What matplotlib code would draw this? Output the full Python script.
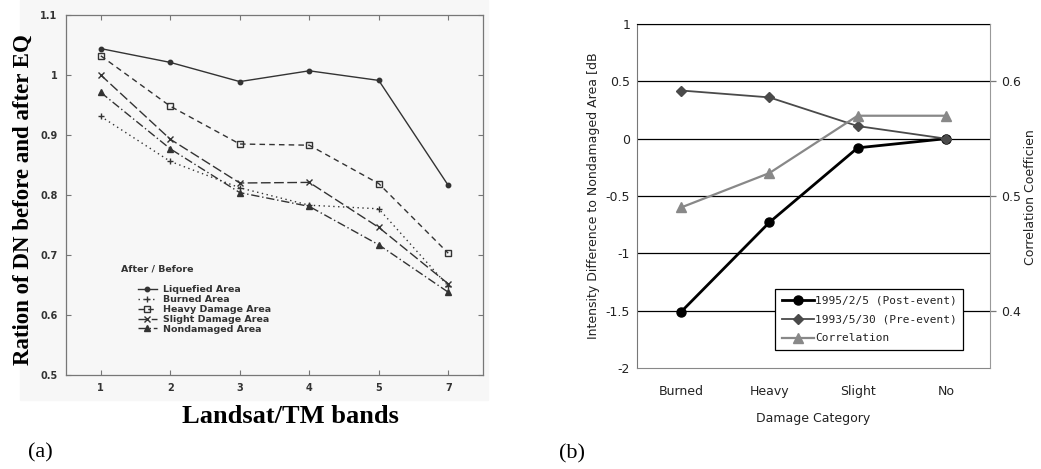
import numpy as np
import matplotlib.pyplot as plt
from matplotlib.patches import Rectangle

# panel (a): ratio of DN after / before the earthquake
bands = ['1', '2', '3', '4', '5', '7']
liquefied = [1.044, 1.021, 0.989, 1.007, 0.991, 0.816]
burned = [0.931, 0.856, 0.812, 0.783, 0.777, 0.648]
heavy = [1.032, 0.948, 0.885, 0.883, 0.819, 0.703]
slight = [1.000, 0.893, 0.820, 0.821, 0.746, 0.652]
nondamaged = [0.971, 0.877, 0.804, 0.781, 0.717, 0.638]
a_yticks = [0.5, 0.6, 0.7, 0.8, 0.9, 1.0, 1.1]
a_yticklabels = ['0.5', '0.6', '0.7', '0.8', '0.9', '1', '1.1']

# panel (b): intensity difference and correlation by damage category
categories = ['Burned', 'Heavy', 'Slight', 'No']
post_event = [-1.51, -0.73, -0.08, 0.0]
pre_event = [0.42, 0.36, 0.11, 0.0]
correlation = [0.49, 0.52, 0.57, 0.57]
b_yticks = [-2, -1.5, -1, -0.5, 0, 0.5, 1]
b_yticklabels = ['-2', '-1.5', '-1', '-0.5', '0', '0.5', '1']
b_rticks = [0.4, 0.5, 0.6]

W, H = 1041, 469
fig = plt.figure(figsize=(W / 100, H / 100), dpi=100)
fig.patch.set_facecolor('white')


def fig_rect(x0, y0, x1, y1):
    # pixel box (top-left origin) -> figure fraction
    return [x0 / W, 1 - y1 / H, (x1 - x0) / W, (y1 - y0) / H]


# light scan background behind panel (a)
fig.patches.append(Rectangle((20 / W, 1 - 400 / H), 468 / W, 400 / H,
                             transform=fig.transFigure, color='#f7f7f7', zorder=-5))

# ---------------- panel (a) ----------------
ink = '#333333'
ax1 = fig.add_axes(fig_rect(66, 15, 483, 375))
ax1.set_facecolor('#f7f7f7')
x = np.arange(len(bands))
styles = [
    ('Liquefied Area', liquefied, '-', 'o', ink, 3.2),
    ('Burned Area', burned, (0, (1, 2.5)), '+', ink, 4.5),
    ('Heavy Damage Area', heavy, (0, (4, 3)), 's', 'none', 4.0),
    ('Slight Damage Area', slight, (0, (7, 2.5)), 'x', ink, 4.5),
    ('Nondamaged Area', nondamaged, (0, (6, 2, 1, 2)), '^', ink, 4.0),
]
for label, vals, ls, mk, mfc, ms in styles:
    ax1.plot(x, vals, linestyle=ls, marker=mk, color=ink, mfc=mfc, mec=ink,
             ms=ms, lw=1.0, label=label)

ax1.set_xlim(-0.5, 5.5)
ax1.set_ylim(0.5, 1.1)
ax1.set_xticks(x)
ax1.set_xticklabels(bands)
ax1.set_yticks(a_yticks)
ax1.set_yticklabels(a_yticklabels)
ax1.tick_params(direction='in', length=3.5, width=0.8, color='#777777',
                top=True, right=True, labelsize=7, labelcolor=ink, pad=6)
for lab in ax1.get_xticklabels() + ax1.get_yticklabels():
    lab.set_fontweight('bold')
for s in ax1.spines.values():
    s.set_color('#777777')
    s.set_linewidth(0.9)

fig.text(121 / W, 1 - 269 / H, 'After / Before', fontsize=6.8, fontweight='bold',
         color=ink, ha='left', va='center')
leg1 = ax1.legend(loc='upper left', bbox_to_anchor=(138 / W, 1 - 285 / H),
                  bbox_transform=fig.transFigure, frameon=False, borderpad=0,
                  borderaxespad=0, fontsize=6.8, labelspacing=0.1,
                  handlelength=2.0, handletextpad=0.6, numpoints=1)
for t in leg1.get_texts():
    t.set_fontweight('bold')
    t.set_color(ink)

fig.text(23 / W, 1 - 200 / H, 'Ration of DN before and after EQ',
         family='Liberation Serif', fontweight='bold', fontsize=16.5,
         rotation=90, ha='center', va='center')
fig.text(290 / W, 1 - 416 / H, 'Landsat/TM bands', family='Liberation Serif',
         fontweight='bold', fontsize=19, ha='center', va='center')
fig.text(40 / W, 1 - 453 / H, '(a)', family='Liberation Serif', fontsize=16,
         ha='center', va='center')

# ---------------- panel (b) ----------------
ax2 = fig.add_axes(fig_rect(637, 24, 990, 368))
xc = np.arange(len(categories))
l_post, = ax2.plot(xc, post_event, color='black', lw=2.0, marker='o', ms=6.5,
                   label='1995/2/5 (Post-event)', zorder=3)
l_pre, = ax2.plot(xc, pre_event, color='#4a4a4a', lw=1.3, marker='D', ms=5.5,
                  label='1993/5/30 (Pre-event)', zorder=3)
ax2.set_xlim(-0.5, 3.5)
ax2.set_ylim(-2, 1)
ax2.set_yticks(b_yticks)
ax2.set_yticklabels(b_yticklabels)
ax2.set_xticks(xc)
ax2.set_xticklabels(categories)
ax2.grid(axis='y', color='black', lw=0.9)
ax2.get_ygridlines()[0].set_visible(False)
ax2.set_axisbelow(True)
ax2.tick_params(axis='y', length=0, pad=5, labelsize=9, labelcolor='#222222')
ax2.tick_params(axis='x', length=0, pad=12, labelsize=9, labelcolor='#222222')
ax2.set_xlabel('Damage Category', fontsize=9, color='#222222', labelpad=10)
ax2.set_ylabel('Intensity Difference to Nondamaged Area [dB', fontsize=9,
               color='#222222', labelpad=4)
ax2.spines['top'].set_color('black')
ax2.spines['left'].set_color('#777777')
ax2.spines['bottom'].set_color('#888888')
ax2.spines['right'].set_visible(False)

ax2r = ax2.twinx()
l_cor, = ax2r.plot(xc, correlation, color='#888888', lw=1.6, marker='^', ms=7.5,
                   label='Correlation', zorder=3)
ax2r.set_ylim(0.35, 0.65)
ax2r.set_yticks(b_rticks)
ax2r.set_yticklabels(['0.4', '0.5', '0.6'])
ax2r.tick_params(axis='y', length=4, width=0.9, color='#777777', pad=4,
                 labelsize=9, labelcolor='#222222')
for side in ['top', 'left', 'bottom']:
    ax2r.spines[side].set_visible(False)
ax2r.spines['right'].set_color('#999999')

leg2 = ax2r.legend(handles=[l_post, l_pre, l_cor], loc='upper left',
                   bbox_to_anchor=(775 / W, 1 - 289 / H), bbox_transform=fig.transFigure,
                   borderaxespad=0, borderpad=0.6, fancybox=False, framealpha=1,
                   edgecolor='black', prop={'family': 'DejaVu Sans Mono', 'size': 8},
                   labelspacing=0.8, handlelength=2.9, handletextpad=0.1, numpoints=1)
leg2.get_frame().set_linewidth(0.9)
for t in leg2.get_texts():
    t.set_color('#222222')

fig.text(1030 / W, 1 - 197 / H, 'Correlation Coefficien', fontsize=9,
         color='#222222', rotation=90, ha='center', va='center')
fig.text(572 / W, 1 - 454 / H, '(b)', family='Liberation Serif', fontsize=16,
         ha='center', va='center')

fig.savefig('out.png', dpi=100)
